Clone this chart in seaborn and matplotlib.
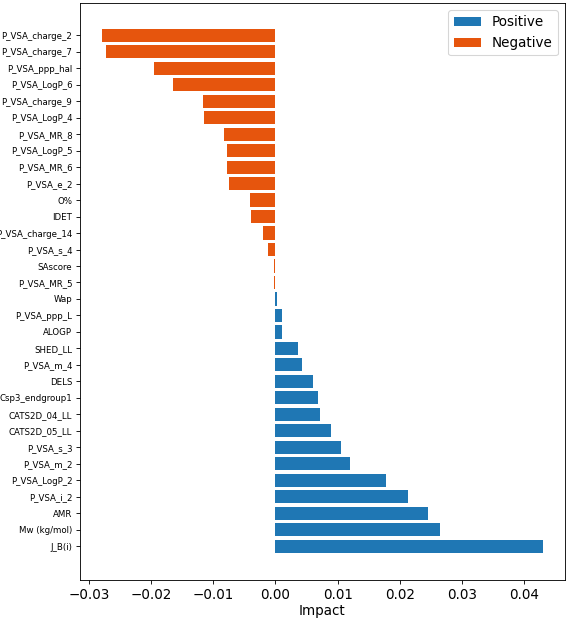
import pandas as pd
import matplotlib
matplotlib.use("Agg")
import matplotlib.pyplot as plt
import seaborn as sns

# cechy i ich wpływ, od najbardziej ujemnego
features = ['P_VSA_charge_2', 'P_VSA_charge_7', 'P_VSA_ppp_hal', 'P_VSA_LogP_6',
            'P_VSA_charge_9', 'P_VSA_LogP_4', 'P_VSA_MR_8', 'P_VSA_LogP_5',
            'P_VSA_MR_6', 'P_VSA_e_2', 'O%', 'IDET', 'P_VSA_charge_14',
            'P_VSA_s_4', 'SAscore', 'P_VSA_MR_5', 'Wap', 'P_VSA_ppp_L', 'ALOGP',
            'SHED_LL', 'P_VSA_m_4', 'DELS', 'Csp3_endgroup1', 'CATS2D_04_LL',
            'CATS2D_05_LL', 'P_VSA_s_3', 'P_VSA_m_2', 'P_VSA_LogP_2', 'P_VSA_i_2',
            'AMR', 'Mw (kg/mol)', 'J_B(i)']
impacts = [-0.0279, -0.0272, -0.0196, -0.0165, -0.0117, -0.0115, -0.0083, -0.0078,
           -0.0078, -0.0075, -0.0041, -0.0039, -0.0020, -0.0012, -0.0003, -0.0002,
           0.0003, 0.0010, 0.0010, 0.0037, 0.0042, 0.0061, 0.0068, 0.0071,
           0.0090, 0.0106, 0.0120, 0.0178, 0.0213, 0.0245, 0.0264, 0.0430]

df = pd.DataFrame({'feature': features, 'impact': impacts})
df['sign'] = ['Positive' if v > 0 else 'Negative' for v in df['impact']]

# obraz jest pomniejszony, więc rysujemy przy dpi=78
fig = plt.figure(figsize=(567 / 78, 619 / 78), dpi=78)
ax = fig.add_axes([0.141, 0.063, 0.855, 0.932])

sns.barplot(data=df, x='impact', y='feature', hue='sign', orient='h',
            hue_order=['Positive', 'Negative'],
            palette={'Positive': '#1f77b4', 'Negative': '#e6550d'},
            dodge=False, saturation=1, width=0.8, ax=ax)

ax.set_ylim(len(features) + 1.05, -1.95)
ax.set_xlabel('Impact', fontsize=12.5, labelpad=2)
ax.set_ylabel('')
ax.tick_params(axis='y', labelsize=8)
ax.tick_params(axis='x', labelsize=12.5)
ax.legend(loc='upper right', fontsize=12.5)

fig.savefig('out.png', dpi=78)
